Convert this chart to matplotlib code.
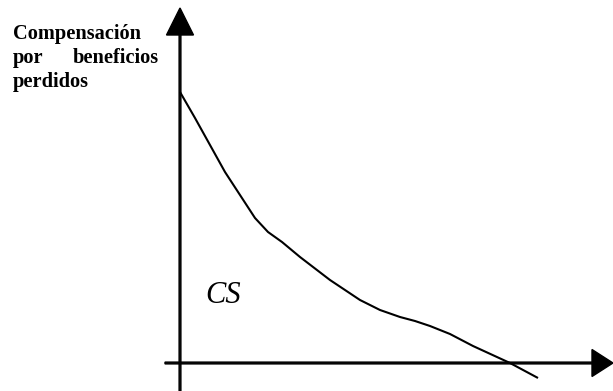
import matplotlib

matplotlib.use("Agg")
import matplotlib.pyplot as plt

# curve, origin at the axes crossing (units ~ pixels)
curve_x = [0, 15, 30, 45, 60, 75, 88, 102, 120, 150, 180, 200, 220, 235, 250, 270, 293, 330, 358]
curve_y = [271, 245, 218, 191, 168, 145, 131, 121, 106, 83, 63, 53, 46, 42, 37, 29, 17, 0, -15]

y_label_lines = ["Compensación", "por", "beneficios", "perdidos"]
area_label = "CS"


def main():
    fig = plt.figure(figsize=(6.13, 3.91), dpi=100)
    ax = fig.add_axes([0, 0, 1, 1])
    ax.set_xlim(-180, 433)
    ax.set_ylim(-28, 363)
    ax.axis("off")

    # axes with arrow heads
    ax.arrow(0, -28, 0, 383, width=1.8, head_width=27, head_length=27,
             length_includes_head=True, color="black")
    ax.arrow(-15, 0, 448, 0, width=1.8, head_width=27, head_length=21,
             length_includes_head=True, color="black")

    ax.plot(curve_x, curve_y, color="black", lw=1.5,
            solid_joinstyle="round", solid_capstyle="butt")

    font = dict(family="Liberation Serif", weight="bold", fontsize=14.7)
    ax.text(-167, 324, y_label_lines[0], ha="left", va="baseline", **font)
    ax.text(-167, 300, y_label_lines[1], ha="left", va="baseline", **font)
    ax.text(-21, 300, y_label_lines[2], ha="right", va="baseline", **font)
    ax.text(-167, 276, y_label_lines[3], ha="left", va="baseline", **font)

    ax.text(25, 60, area_label, family="Liberation Serif", style="italic",
            fontsize=22, ha="left", va="baseline")

    fig.savefig("out.png", dpi=100)
    plt.close(fig)


if __name__ == "__main__":
    main()
